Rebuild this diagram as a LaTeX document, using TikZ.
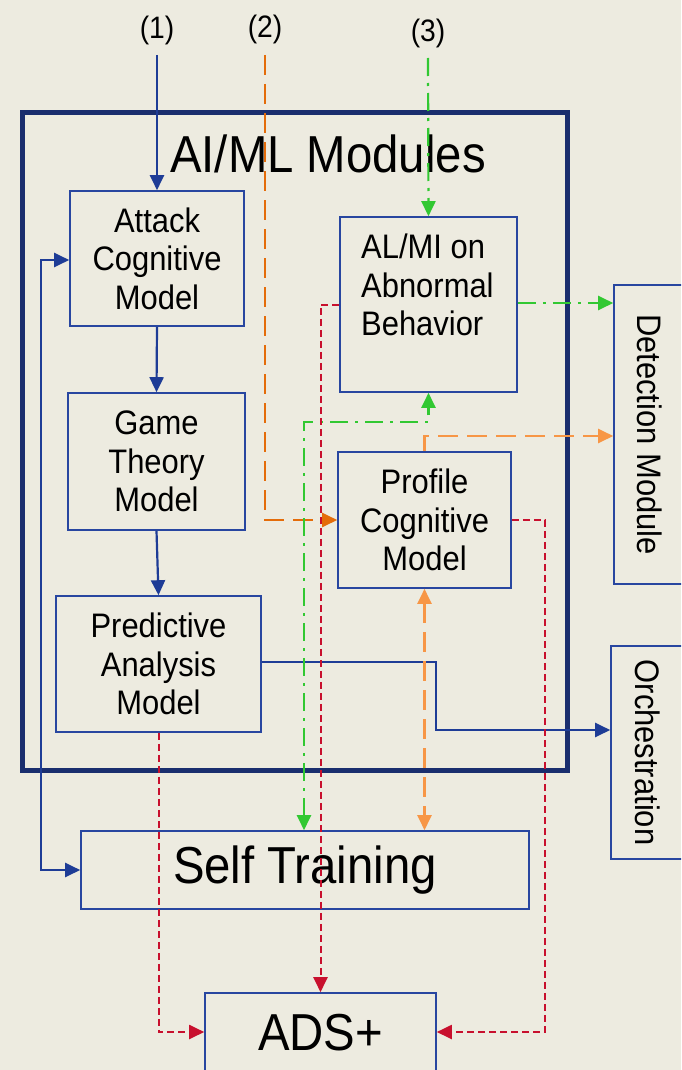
\documentclass[tikz,border=0pt]{standalone}
\usepackage{fontspec}
\usepackage{graphicx}
\setmainfont{Liberation Sans}[FakeStretch=0.91]
\usetikzlibrary{arrows.meta,calc}

\definecolor{bg}{RGB}{237,235,224}
\definecolor{navy}{RGB}{26,46,110}
\definecolor{boxblue}{RGB}{40,70,160}
\definecolor{flowblue}{RGB}{30,60,150}
\definecolor{dorange}{RGB}{228,108,10}
\definecolor{lorange}{RGB}{247,150,70}
\definecolor{lgreen}{RGB}{50,200,50}
\definecolor{crimson}{RGB}{200,16,46}

\tikzset{
  box/.style={draw=boxblue, line width=1.6pt, inner sep=0pt, align=center,
              font=\fontsize{34}{38.5}\selectfont},
  bigtext/.style={font=\fontsize{52}{58}\selectfont, inner sep=0pt},
  tag/.style={font=\fontsize{31}{34}\selectfont, inner sep=0pt},
  bluelink/.style={draw=flowblue, line width=2.2pt},
  orangelink/.style={draw=dorange, line width=2.2pt, dash pattern=on 20pt off 9pt},
  peachlink/.style={draw=lorange, line width=2.2pt, dash pattern=on 20pt off 9pt},
  greenlink/.style={draw=lgreen, line width=2.2pt, dash pattern=on 18pt off 7pt on 3pt off 7pt},
  redlink/.style={draw=crimson, line width=2pt, dash pattern=on 7pt off 4pt},
  >={Triangle[length=15pt,width=14pt]},
}

\begin{document}
\begin{tikzpicture}[x=1pt,y=-1pt]
\useasboundingbox (0,0) rectangle (681,1070);
\fill[bg] (0,0) rectangle (681,1070);
\begin{scope}
\clip (0,0) rectangle (681,1070);

% enclosing AI/ML frame
\node[draw=navy, line width=5pt, minimum width=545pt, minimum height=657pt] (aiml) at (294.5,441.5) {};
\node[bigtext] (aimltitle) at (328,154) {AI/ML Modules};

% module boxes
\node[box, minimum width=174pt, minimum height=135pt] (attack) at (157,258.5) {Attack\\Cognitive\\Model};
\node[box, minimum width=177pt, minimum height=137pt] (game) at (156.5,461.5) {Game\\Theory\\Model};
\node[box, minimum width=205pt, minimum height=136pt] (pred) at (158.5,664) {Predictive\\Analysis\\Model};
\node[box, minimum width=177pt, minimum height=175pt] (alml) at (428.5,304.5) {};
\node[font=\fontsize{34}{38.5}\selectfont, inner sep=0pt, align=left, anchor=north west]
  (almltext) at (361,234) {AL/MI on\\Abnormal\\Behavior};
\node[box, minimum width=173pt, minimum height=136pt] (profile) at (424.5,520) {Profile\\Cognitive\\Model};

% external boxes
\node[box, minimum width=72pt, minimum height=299pt] (det) at (650,434.5) {\rotatebox{-90}{Detection Module}};
\node[box, minimum width=74pt, minimum height=213pt] (orch) at (648,752.5) {\rotatebox{-90}{Orchestration}};
\node[box, minimum width=448pt, minimum height=78pt, font=\fontsize{52}{58}\selectfont] (self) at (305,870) {Self Training};
\node[box, minimum width=231pt, minimum height=80pt, font=\fontsize{52}{58}\selectfont] (ads) at (320.5,1033) {ADS+};

% inputs
\node[tag] (lab1) at (157,30) {(1)};
\node[tag] (lab2) at (265,29) {(2)};
\node[tag] (lab3) at (428,33) {(3)};
\coordinate (in1) at (157,55);
\coordinate (in2) at (265,55);
\coordinate (in3) at (428,58);

% blue flow
\draw[bluelink,->] (in1) -- (attack.north);
\draw[bluelink,->] (attack.south) -- (game.north);
\draw[bluelink,->] (game.south) -- (pred.north);
\draw[bluelink,<->] (attack.west |- 0,260) -- ++(-28,0) |- (self.west);
\draw[bluelink,->] (pred.east |- 0,662) -| (436,730) -- (orch.west |- 0,730);

% orange flows
\draw[orangelink,->] (in2) |- (profile.west);
\draw[peachlink,->] (profile.north) |- (det.west |- 0,436);
\draw[peachlink,<->] (profile.south) -- (profile.south |- self.north);

% green flows
\draw[greenlink,->] (in3) -- (alml.north);
\draw[greenlink,->] (alml.east |- 0,303) -- (det.west |- 0,303);
\draw[greenlink,<->] (self.north -| 304,0) |- (alml.south |- 0,422) -- (alml.south);

% red flows to ADS+
\draw[redlink,->] (alml.west) -| (ads.north);
\draw[redlink,->] (pred.south) |- (ads.west |- 0,1032);
\draw[redlink,->] (profile.east) -| (545,1032) -- (ads.east |- 0,1032);
\end{scope}
\end{tikzpicture}
\end{document}
